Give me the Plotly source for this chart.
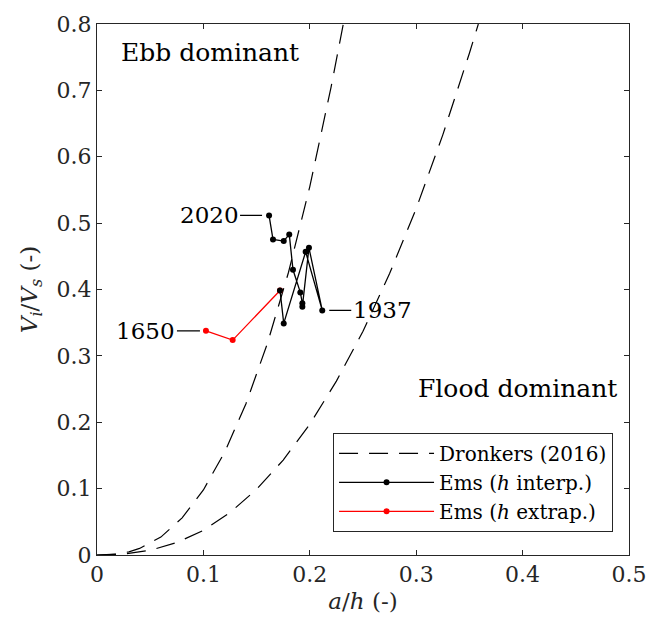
import plotly.graph_objects as go

# Dronkers (2016) boundary curves
dr1_x = [0, 0.02, 0.03, 0.04, 0.06, 0.08, 0.10, 0.12, 0.14, 0.16, 0.18, 0.20, 0.22, 0.2315]
dr1_y = [0, 0.0015, 0.0048, 0.0099, 0.027, 0.056, 0.098, 0.155, 0.228, 0.318, 0.426, 0.555, 0.705, 0.80]
dr2_x = [0, 0.025, 0.05, 0.075, 0.10, 0.125, 0.15, 0.175, 0.20, 0.225, 0.25, 0.275, 0.30, 0.325, 0.35, 0.3584]
dr2_y = [0, 0.0013, 0.0071, 0.0188, 0.037, 0.064, 0.099, 0.143, 0.197, 0.262, 0.337, 0.424, 0.522, 0.633, 0.756, 0.80]

# Ems, h extrapolated (red)
ext_x = [0.1024, 0.1275, 0.1720]
ext_y = [0.3378, 0.3238, 0.3986]

# Ems, h interpolated (black)
int_x = [0.1720, 0.1755, 0.1961, 0.2117, 0.1992, 0.1930, 0.1930, 0.1911, 0.1842, 0.1807, 0.1755, 0.1654, 0.1617]
int_y = [0.3986, 0.3489, 0.4568, 0.3685, 0.4628, 0.3739, 0.3791, 0.3956, 0.4297, 0.4830, 0.4729, 0.4755, 0.5116]

# year labels
years = ["1650", "2020", "1937"]
year_x = [0.1024, 0.1617, 0.2117]
year_y = [0.3378, 0.5116, 0.3685]
year_ax = [-60, -60, 60]
year_standoff = [6, 7, 7]

FONT = "DejaVu Serif"
FS = 23
DASH = "19px,11px"

fig = go.Figure()
fig.add_trace(go.Scatter(x=dr1_x, y=dr1_y, mode="lines", name="Dronkers (2016)",
                         line=dict(color="black", width=1.2, dash=DASH), legendrank=1))
fig.add_trace(go.Scatter(x=dr2_x, y=dr2_y, mode="lines", showlegend=False,
                         line=dict(color="black", width=1.2, dash=DASH)))
fig.add_trace(go.Scatter(x=ext_x, y=ext_y, mode="lines+markers", name="Ems (<i>h</i> extrap.)",
                         line=dict(color="#ff0000", width=1.3), marker=dict(size=6, color="#ff0000"),
                         legendrank=3))
fig.add_trace(go.Scatter(x=int_x, y=int_y, mode="lines+markers", name="Ems (<i>h</i> interp.)",
                         line=dict(color="black", width=1.3), marker=dict(size=6, color="black"),
                         legendrank=2))

for t, x, y, ax, so in zip(years, year_x, year_y, year_ax, year_standoff):
    fig.add_annotation(x=x, y=y, xref="x", yref="y", text=t, showarrow=True,
                       arrowhead=0, arrowwidth=1.2, arrowcolor="black", ax=ax, ay=0,
                       standoff=so, font=dict(family=FONT, size=FS, color="black"))

fig.add_annotation(x=0.0207, y=0.7575, xref="x", yref="y", text="Ebb dominant", showarrow=False,
                   xanchor="left", yanchor="middle", font=dict(family=FONT, size=25, color="black"))
fig.add_annotation(x=0.2998, y=0.2515, xref="x", yref="y", text="Flood dominant", showarrow=False,
                   xanchor="left", yanchor="middle", font=dict(family=FONT, size=25, color="black"))

axcol = "#262626"
fig.update_xaxes(range=[0, 0.5], dtick=0.1, tick0=0, ticks="inside", ticklen=5, tickcolor=axcol,
                 showline=True, linecolor=axcol, linewidth=1, mirror="ticks", showgrid=False,
                 zeroline=False, tickfont=dict(family=FONT, size=22, color=axcol),
                 title=dict(text="<i>a</i>/<i>h</i> (-)", font=dict(family=FONT, size=FS, color=axcol),
                            standoff=6))
fig.update_yaxes(range=[0, 0.8], dtick=0.1, tick0=0, ticks="inside", ticklen=5, tickcolor=axcol,
                 showline=True, linecolor=axcol, linewidth=1, mirror="ticks", showgrid=False,
                 zeroline=False, tickfont=dict(family=FONT, size=22, color=axcol),
                 title=dict(text="<i>V<sub>i</sub></i>/<i>V<sub>s</sub></i> (-)",
                            font=dict(family=FONT, size=FS, color=axcol), standoff=12))

fig.update_layout(
    width=649, height=633,
    margin=dict(l=97, r=20, t=24, b=78, autoexpand=False),
    plot_bgcolor="white", paper_bgcolor="white",
    legend=dict(x=0.97, y=0.23, xanchor="right", yanchor="top",
                bgcolor="white", bordercolor=axcol, borderwidth=1,
                font=dict(family=FONT, size=20, color="black"), itemwidth=95,
                tracegroupgap=0),
)

fig.write_html("out.html")
